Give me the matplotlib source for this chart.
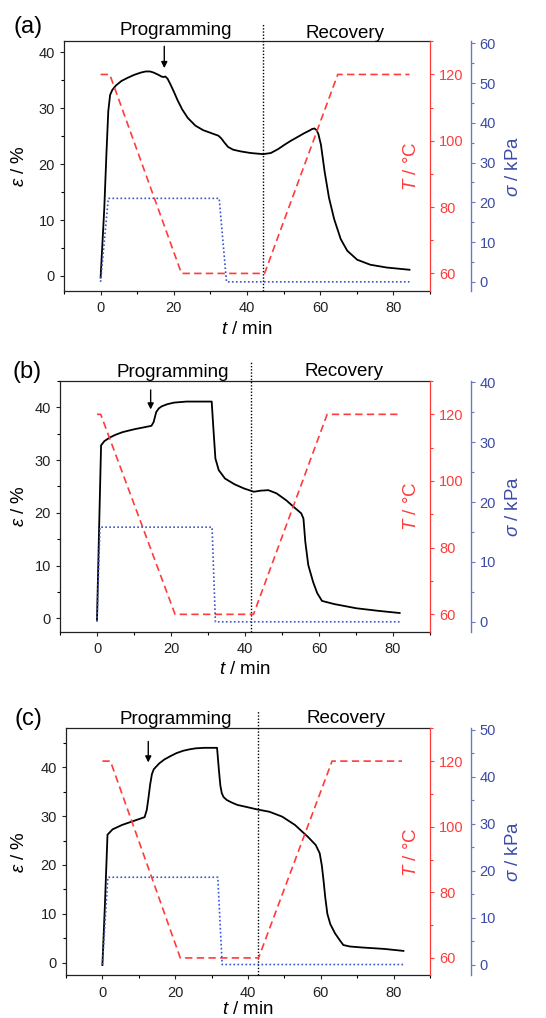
import matplotlib
matplotlib.use('Agg')
import matplotlib.pyplot as plt
from matplotlib.ticker import MultipleLocator

plt.rcParams['font.family'] = ['Liberation Sans', 'DejaVu Sans']
plt.rcParams['mathtext.fontset'] = 'custom'
plt.rcParams['mathtext.rm'] = 'Liberation Sans'
plt.rcParams['mathtext.it'] = 'Liberation Sans:italic'
plt.rcParams['mathtext.bf'] = 'Liberation Sans:bold'

# ---------------- data ----------------
# panel (a)
t_eps_a = [0, 1.0, 1.6, 2.1, 2.6, 3.2, 4.2, 5.7, 7.5, 9.2, 11.0, 12.3, 13.5, 14.5, 15.8,
           16.6, 17.2, 17.7, 18.3, 19.0, 20.0, 21.0, 22.3, 23.8, 25.9, 28.0, 30.5, 32.2,
           33.0, 33.8, 34.8, 36.2, 38.2, 41.0, 44.4, 46.5, 48.5, 50.3, 52.0, 53.9, 55.5,
           57.0, 57.8, 58.4, 59.0, 59.5, 60.2, 61.2, 62.4, 63.8, 65.6, 67.4, 70.1, 73.7,
           78.2, 84.4]
eps_a = [-0.3, 12.0, 22.0, 29.5, 32.4, 33.3, 34.1, 34.9, 35.5, 36.0, 36.4, 36.6, 36.6, 36.4, 36.0,
         35.7, 35.6, 35.7, 35.3, 34.4, 33.0, 31.5, 29.8, 28.3, 26.9, 26.1, 25.5, 25.1,
         24.6, 23.9, 23.1, 22.6, 22.3, 22.0, 21.8, 22.0, 22.7, 23.5, 24.2, 24.9, 25.5,
         26.0, 26.3, 26.4, 26.1, 25.4, 23.5, 18.7, 14.0, 10.2, 6.6, 4.5, 2.9, 2.0,
         1.5, 1.1]
t_T_a = [0, 2.5, 22.1, 44.8, 64.8, 84.4]
T_a = [120, 120, 60, 60, 120, 120]
t_sig_a = [0, 2.1, 32.4, 34.4, 84.4]
sig_a = [0, 21.0, 21.0, 0, 0]
t_switch_a = 44.4
t_arrow_a = 17.4

# panel (b)
t_eps_b = [0, 0.5, 1.1, 2.0, 3.5, 5.0, 6.9, 8.6, 10.4, 12.6, 14.7, 15.3, 16.0, 16.7, 17.5,
           19.0, 20.8, 22.5, 24.2, 31.0, 31.4, 32.0, 32.9, 34.6, 37.2, 39.8, 42.4, 44.2,
           46.3, 48.5, 51.1, 53.7, 55.2, 55.8, 56.3, 57.1, 58.4, 59.5, 60.8, 64.1, 70.1,
           76.2, 81.8]
eps_b = [-0.3, 15.0, 32.8, 33.6, 34.3, 34.8, 35.3, 35.6, 35.9, 36.2, 36.5, 37.2, 39.1, 39.8, 40.2,
         40.6, 40.9, 41.0, 41.1, 41.1, 36.6, 30.3, 28.1, 26.5, 25.4, 24.6, 24.0, 24.2,
         24.3, 23.7, 22.4, 20.8, 19.9, 18.9, 14.5, 10.1, 6.9, 4.8, 3.3, 2.7, 1.9,
         1.4, 1.0]
t_T_b = [0, 1.0, 21.1, 42.3, 62.2, 81.8]
T_b = [120, 120, 60, 60, 120, 120]
t_sig_b = [0, 0.8, 31.1, 32.0, 81.8]
sig_b = [0, 15.8, 15.8, 0, 0]
t_switch_b = 41.7
t_arrow_b = 14.5

# panel (c)
t_eps_c = [0, 0.7, 1.4, 2.8, 5.4, 8.5, 11.6, 12.2, 12.7, 13.1, 13.6, 14.1, 15.6, 17.0,
           18.7, 20.3, 22.2, 24.0, 25.7, 28.0, 31.5, 32.0, 32.4, 32.8, 33.3, 34.2, 35.5,
           37.1, 39.5, 42.4, 45.9, 49.4, 52.9, 56.4, 58.6, 59.7, 60.3, 60.8, 61.2, 61.8,
           62.6, 63.9, 65.2, 66.2, 68.0, 71.3, 77.5, 82.7]
eps_c = [-0.5, 12.0, 26.2, 27.3, 28.2, 29.0, 29.8, 31.3, 34.0, 36.4, 38.6, 39.6, 40.8, 41.6,
         42.3, 42.9, 43.4, 43.7, 43.9, 44.0, 44.0, 39.5, 36.3, 34.7, 33.9, 33.3, 32.8,
         32.3, 31.9, 31.4, 30.9, 29.9, 28.2, 25.8, 24.1, 22.4, 19.8, 16.5, 13.5, 10.0,
         7.9, 6.0, 4.6, 3.6, 3.3, 3.1, 2.8, 2.4]
t_T_c = [0, 2.2, 21.4, 42.9, 63.1, 82.3]
T_c = [120, 120, 60, 60, 120, 120]
t_sig_c = [0, 1.5, 31.7, 32.9, 82.7]
sig_c = [0, 18.6, 18.6, 0, 0]
t_switch_c = 42.7
t_arrow_c = 12.6

labels_panel = ['(a)', '(b)', '(c)']
phase_labels = ['Programming', 'Recovery']

# ---------------- layout ----------------
W, H = 546, 1018
RED = '#ff3b3b'
BLUE_LINE = '#3a55cc'
BLUE_TXT = '#3c4ba6'
BLUE_SPINE = '#6a78c0'

panels = [
    dict(box=(64, 41.3, 430, 291), data=(t_eps_a, eps_a, t_T_a, T_a, t_sig_a, sig_a),
         ylim=(-2.7, 42), slim=(-2.3, 60.5), ts=t_switch_a, ta=t_arrow_a, arr=(41.1, 37.2),
         lab=labels_panel[0], labxy=(28, 27.5), prog=(175.7, 35), rec=(345, 38.3), xl=329.5),
    dict(box=(60, 381, 430, 632), data=(t_eps_b, eps_b, t_T_b, T_b, t_sig_b, sig_b),
         ylim=(-2.6, 45), slim=(-1.7, 40.2), ts=t_switch_b, ta=t_arrow_b, arr=(43.3, 39.6),
         lab=labels_panel[1], labxy=(27.5, 372), prog=(172.3, 376.7), rec=(344.3, 376), xl=669),
    dict(box=(66, 728.3, 430, 975.3), data=(t_eps_c, eps_c, t_T_c, T_c, t_sig_c, sig_c),
         ylim=(-2.6, 48), slim=(-2.3, 50.35), ts=t_switch_c, ta=t_arrow_c, arr=(45.3, 41.0),
         lab=labels_panel[2], labxy=(28, 719.5), prog=(176, 724), rec=(346, 723.3), xl=1010),
]

fig = plt.figure(figsize=(W / 100, H / 100), dpi=100)

TICK_FS = 10.5
LAB_FS = 13.5

for p in panels:
    x0, y0, x1, y1 = p['box']
    ax = fig.add_axes([x0 / W, 1 - y1 / H, (x1 - x0) / W, (y1 - y0) / H])
    te, e, tT, T, ts_, s = p['data']
    axT = ax.twinx()
    axS = ax.twinx()
    axS.spines['right'].set_position(('outward', 29.3))

    ax.plot(te, e, color='black', lw=1.3, zorder=3, solid_joinstyle='round')
    axT.plot(tT, T, color=RED, lw=1.2, linestyle=(0, (4.4, 2.6)))
    axS.plot(ts_, s, color=BLUE_LINE, lw=1.2, linestyle=(0, (1.0, 1.4)))

    ax.set_xlim(-10, 90)
    ax.set_ylim(*p['ylim'])
    axT.set_ylim(54.7, 130)
    axS.set_ylim(*p['slim'])

    ax.xaxis.set_major_locator(MultipleLocator(20))
    ax.xaxis.set_minor_locator(MultipleLocator(10))
    ax.yaxis.set_major_locator(MultipleLocator(10))
    ax.yaxis.set_minor_locator(MultipleLocator(5))
    axT.yaxis.set_major_locator(MultipleLocator(20))
    axT.yaxis.set_minor_locator(MultipleLocator(10))
    axS.yaxis.set_major_locator(MultipleLocator(10))
    axS.yaxis.set_minor_locator(MultipleLocator(5))

    for a in (ax, axT, axS):
        a.tick_params(which='major', direction='out', length=2.9, width=0.8, labelsize=TICK_FS, pad=3.5)
        a.tick_params(which='minor', direction='out', length=2.0, width=0.8)
    ax.tick_params(axis='both', colors='#222222', labelcolor='#222222')
    ax.tick_params(axis='x', pad=4.5)
    ax.spines['right'].set_visible(False)
    for sp in ('left', 'top', 'bottom'):
        ax.spines[sp].set_linewidth(0.9)
        ax.spines[sp].set_color('#222222')
        axT.spines[sp].set_visible(False)
        axS.spines[sp].set_visible(False)
    axT.spines['right'].set_color(RED)
    axT.spines['right'].set_linewidth(0.9)
    axT.tick_params(axis='y', which='both', colors=RED, labelcolor=RED)
    axS.spines['right'].set_color(BLUE_SPINE)
    axS.spines['right'].set_linewidth(1.0)
    axS.tick_params(axis='y', which='both', colors=BLUE_SPINE, labelcolor=BLUE_TXT)

    # phase boundary (dotted, extending above the box)
    ax.axvline(p['ts'], ymin=0, ymax=1.075, color='black', lw=1.0,
               linestyle=(0, (1.0, 1.3)), clip_on=False, zorder=4)

    # arrow
    ax.annotate('', xy=(p['ta'], p['arr'][1]), xytext=(p['ta'], p['arr'][0]),
                arrowprops=dict(arrowstyle='-|>', color='black', lw=1.0,
                                mutation_scale=9, shrinkA=0, shrinkB=0))

    # axis labels
    ax.set_xlabel('$t$ / min', fontsize=LAB_FS)
    ax.xaxis.set_label_coords(0.5, -(p['xl'] - y1) / (y1 - y0))
    ax.xaxis.label.set_va('center')

    wdt = x1 - x0
    ax.set_ylabel(r'$\varepsilon$ / %', fontsize=LAB_FS)
    ax.yaxis.set_label_coords((20 - x0) / wdt, 0.5)
    ax.yaxis.label.set_va('center')

    axT.set_ylabel('$T$ / \u00b0C', fontsize=LAB_FS, color=RED)
    axT.yaxis.set_label_coords((411 - x0) / wdt, 0.5)
    axT.yaxis.label.set_va('center')

    axS.set_ylabel(r'$\sigma$ / kPa', fontsize=LAB_FS, color=BLUE_TXT)
    axS.yaxis.set_label_coords((513 - x0) / wdt, 0.5)
    axS.yaxis.label.set_va('center')

    # texts
    fig.text(p['labxy'][0] / W, 1 - p['labxy'][1] / H, p['lab'], fontsize=17,
             ha='center', va='center')
    fig.text(p['prog'][0] / W, 1 - p['prog'][1] / H, phase_labels[0], fontsize=LAB_FS,
             ha='center', va='baseline')
    fig.text(p['rec'][0] / W, 1 - p['rec'][1] / H, phase_labels[1], fontsize=LAB_FS,
             ha='center', va='baseline')

fig.savefig('out.png', dpi=100)
